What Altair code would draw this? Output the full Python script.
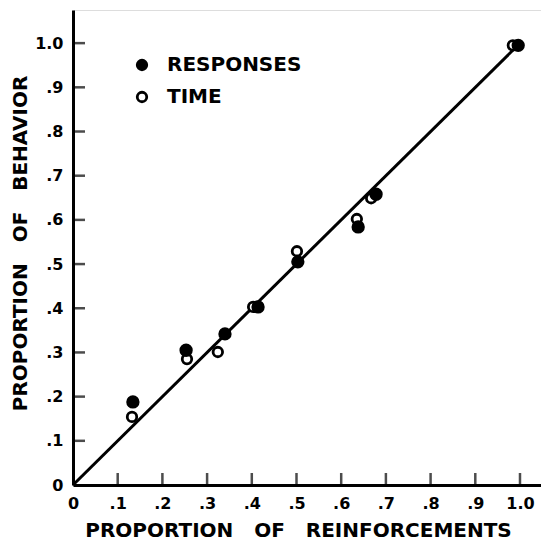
import altair as alt
import pandas as pd

# Data
resp_x = [0.134, 0.253, 0.340, 0.414, 0.503, 0.638, 0.678, 0.996]
resp_y = [0.188, 0.305, 0.342, 0.403, 0.505, 0.584, 0.658, 0.995]
time_x = [0.132, 0.255, 0.324, 0.403, 0.501, 0.635, 0.667, 0.984]
time_y = [0.154, 0.285, 0.301, 0.403, 0.529, 0.602, 0.649, 0.995]
series = ["RESPONSES", "TIME"]

line_x = [0.0, 1.0]
line_y = [0.0, 1.0]

tick_values = [0, 0.1, 0.2, 0.3, 0.4, 0.5, 0.6, 0.7, 0.8, 0.9, 1.0]
tick_labels = ["0", ".1", ".2", ".3", ".4", ".5", ".6", ".7", ".8", ".9", "1.0"]
mark_ticks = tick_values[1:]

SP = "\u00a0\u00a0\u00a0"
x_title = f"PROPORTION{SP}OF{SP}REINFORCEMENTS"
y_title = f"PROPORTION{SP}OF{SP}BEHAVIOR"

FONT = "DejaVu Sans"

resp_df = pd.DataFrame({"x": resp_x, "y": resp_y, "measure": series[0]})
time_df = pd.DataFrame({"x": time_x, "y": time_y, "measure": series[1]})
fit = pd.DataFrame({"x": line_x, "y": line_y})
ticks = pd.DataFrame({"v": mark_ticks})

label_expr = "[" + ",".join(f"'{l}'" for l in tick_labels) + "][round(datum.value*10)]"

xscale = alt.Scale(domain=[0, 1.047], nice=False, zero=False)
yscale = alt.Scale(domain=[0, 1.075], nice=False, zero=False)

common_axis = dict(
    values=tick_values, labelExpr=label_expr, ticks=False, tickSize=0, grid=False,
    domainWidth=3, domainColor="black", labelFont=FONT, labelFontWeight="bold",
    labelFontSize=16, labelColor="black", labelPadding=10,
    titleFont=FONT, titleFontWeight="bold", titleFontSize=20, titleColor="black",
    labelFlush=False, labelOverlap=False,
)

x_axis = alt.Axis(title=x_title, titleX=225, titleY=51, titleAlign="center",
                  titleBaseline="alphabetic", **common_axis)
y_axis = alt.Axis(title=y_title, titleAngle=270, titleX=-53, titleY=233, titleAlign="center",
                  titleBaseline="middle", **common_axis)

line = alt.Chart(fit).mark_line(color="black", strokeWidth=3).encode(
    x=alt.X("x:Q", scale=xscale, axis=x_axis),
    y=alt.Y("y:Q", scale=yscale, axis=y_axis),
)

xticks = alt.Chart(ticks).mark_tick(orient="vertical", size=12, thickness=2.5, color="black", yOffset=-6).encode(
    x=alt.X("v:Q", scale=xscale),
    y=alt.Y(datum=0, scale=yscale),
)
yticks = alt.Chart(ticks).mark_tick(orient="horizontal", size=12, thickness=2.5, color="black", xOffset=6).encode(
    x=alt.X(datum=0, scale=xscale),
    y=alt.Y("v:Q", scale=yscale),
)

fill_enc = alt.Fill(
    "measure:N",
    scale=alt.Scale(domain=series, range=["black", "white"]),
    legend=alt.Legend(title=None, orient="none", legendX=59, legendY=45, direction="vertical",
                      labelFont=FONT, labelFontWeight="bold", labelFontSize=20,
                      labelColor="black", labelOffset=15, rowPadding=10,
                      symbolType="circle", symbolSize=90, symbolStrokeColor="black",
                      symbolStrokeWidth=2.8, symbolOpacity=1, padding=0),
)

time_pts = alt.Chart(time_df).mark_circle(stroke="black", strokeWidth=2.8, opacity=1, size=90).encode(
    x=alt.X("x:Q", scale=xscale),
    y=alt.Y("y:Q", scale=yscale),
    fill=fill_enc,
)
resp_pts = alt.Chart(resp_df).mark_circle(stroke="black", strokeWidth=2.6, opacity=1, size=115).encode(
    x=alt.X("x:Q", scale=xscale),
    y=alt.Y("y:Q", scale=yscale),
    fill=fill_enc,
)

chart = alt.layer(line, xticks, yticks, time_pts, resp_pts).properties(
    width=468, height=475,
    autosize=alt.AutoSizeParams(type="none"),
    padding={"left": 73, "top": 10, "right": 0, "bottom": 60},
).configure_view(stroke=None).configure(background="white")

chart.save("out.html", embed_options={"renderer": "svg", "actions": False})
